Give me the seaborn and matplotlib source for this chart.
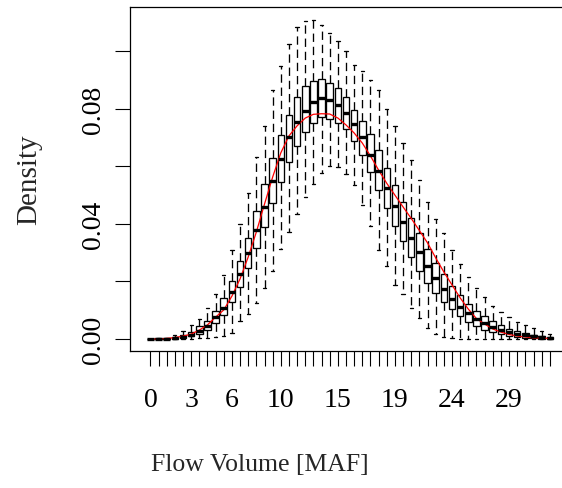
import numpy as np
import pandas as pd
import matplotlib
matplotlib.use("Agg")
import matplotlib.pyplot as plt
import seaborn as sns

# ---------------- data ----------------
positions = list(range(50))

whisker_low = [0.0000, 0.0000, 0.0000, 0.0000, 0.0000, 0.0000, 0.0002, 0.0002, 0.0006, 0.0011,
               0.0020, 0.0062, 0.0087, 0.0124, 0.0176, 0.0237, 0.0313, 0.0371, 0.0434, 0.0493,
               0.0539, 0.0577, 0.0600, 0.0597, 0.0574, 0.0536, 0.0467, 0.0394, 0.0309, 0.0255,
               0.0188, 0.0156, 0.0107, 0.0072, 0.0037, 0.0017, 0.0006, 0.0003, 0.0001, 0.0001,
               0.0000, 0.0000, 0.0000, 0.0000, 0.0000, 0.0000, 0.0000, 0.0000, 0.0000, 0.0000]

box_q1 = [0.0000, 0.0000, 0.0000, 0.0001, 0.0003, 0.0009, 0.0017, 0.0032, 0.0056, 0.0084,
          0.0128, 0.0180, 0.0246, 0.0315, 0.0388, 0.0472, 0.0545, 0.0614, 0.0672, 0.0718,
          0.0751, 0.0771, 0.0765, 0.0751, 0.0730, 0.0687, 0.0640, 0.0579, 0.0518, 0.0454,
          0.0394, 0.0340, 0.0286, 0.0236, 0.0195, 0.0159, 0.0128, 0.0104, 0.0080, 0.0058,
          0.0045, 0.0031, 0.0023, 0.0017, 0.0011, 0.0008, 0.0005, 0.0002, 0.0001, 0.0000]

box_median = [0.0000, 0.0000, 0.0001, 0.0003, 0.0008, 0.0014, 0.0027, 0.0046, 0.0075, 0.0107,
              0.0162, 0.0226, 0.0299, 0.0379, 0.0460, 0.0548, 0.0626, 0.0701, 0.0753, 0.0794,
              0.0823, 0.0837, 0.0831, 0.0812, 0.0786, 0.0746, 0.0701, 0.0641, 0.0585, 0.0524,
              0.0461, 0.0406, 0.0351, 0.0301, 0.0254, 0.0212, 0.0174, 0.0139, 0.0112, 0.0090,
              0.0071, 0.0056, 0.0043, 0.0031, 0.0023, 0.0017, 0.0013, 0.0009, 0.0006, 0.0003]

box_q3 = [0.0001, 0.0002, 0.0003, 0.0007, 0.0013, 0.0023, 0.0046, 0.0064, 0.0096, 0.0141,
          0.0201, 0.0270, 0.0352, 0.0444, 0.0539, 0.0628, 0.0709, 0.0780, 0.0840, 0.0878,
          0.0896, 0.0903, 0.0891, 0.0871, 0.0840, 0.0797, 0.0757, 0.0713, 0.0658, 0.0594,
          0.0535, 0.0475, 0.0421, 0.0367, 0.0312, 0.0265, 0.0225, 0.0185, 0.0152, 0.0123,
          0.0097, 0.0079, 0.0063, 0.0048, 0.0036, 0.0027, 0.0020, 0.0015, 0.0011, 0.0008]

whisker_high = [0.0001, 0.0002, 0.0005, 0.0014, 0.0028, 0.0049, 0.0070, 0.0107, 0.0156, 0.0222,
                0.0309, 0.0400, 0.0506, 0.0632, 0.0741, 0.0867, 0.0950, 0.1025, 0.1086, 0.1106,
                0.1109, 0.1090, 0.1063, 0.1035, 0.1000, 0.0953, 0.0933, 0.0901, 0.0867, 0.0800,
                0.0741, 0.0680, 0.0622, 0.0553, 0.0477, 0.0417, 0.0368, 0.0310, 0.0261, 0.0217,
                0.0178, 0.0145, 0.0116, 0.0095, 0.0078, 0.0059, 0.0049, 0.0037, 0.0029, 0.0018]

density_curve = [0.0000, 0.0000, 0.0002, 0.0005, 0.0010, 0.0017, 0.0031, 0.0049, 0.0076, 0.0101,
                 0.0149, 0.0209, 0.0285, 0.0372, 0.0469, 0.0563, 0.0647, 0.0706, 0.0741, 0.0768,
                 0.0781, 0.0783, 0.0782, 0.0768, 0.0744, 0.0716, 0.0681, 0.0636, 0.0587, 0.0541,
                 0.0500, 0.0459, 0.0419, 0.0377, 0.0334, 0.0282, 0.0233, 0.0188, 0.0143, 0.0104,
                 0.0071, 0.0052, 0.0035, 0.0024, 0.0016, 0.0010, 0.0007, 0.0004, 0.0003, 0.0002]

xtick_label_pos = [0, 5, 10, 16, 23, 30, 37, 44]
xtick_label_txt = ["0", "3", "6", "10", "15", "19", "24", "29"]
ytick_values = [0.00, 0.02, 0.04, 0.06, 0.08, 0.10]
ytick_txt = ["0.00", "", "0.04", "", "0.08", ""]
x_title = "Flow Volume [MAF]"
y_title = "Density"

# ---------------- style ----------------
sns.set_theme(style="white")
plt.rcParams["font.family"] = ["Liberation Serif", "DejaVu Serif"]
plt.rcParams["lines.scale_dashes"] = False
FS = 20

# five-number summaries -> long table (percentiles of 5 values reproduce them)
rows = []
for i in positions:
    for v in (whisker_low[i], box_q1[i], box_median[i], box_q3[i], whisker_high[i]):
        rows.append({"bin": i, "density": v})
df = pd.DataFrame(rows)

W, H = 562, 489
fig = plt.figure(figsize=(W / 100, H / 100), dpi=100)
left, right, top, bottom = 130, 570.2, 8, 352
ax = fig.add_axes([left / W, (H - bottom) / H, (right - left) / W, (bottom - top) / H])

sns.boxplot(data=df, x="bin", y="density", order=positions, whis=(0, 100),
            showfliers=False, width=0.8, color="white", linecolor="black",
            linewidth=0.95, ax=ax,
            whiskerprops=dict(linestyle=(0, (6, 3.5)), linewidth=0.95),
            capprops=dict(linewidth=0.95),
            medianprops=dict(linewidth=2.4, color="black", solid_capstyle="butt"))
sns.lineplot(x=positions, y=density_curve, color="red", linewidth=0.9, ax=ax)

ax.set_xlim(-2.5, 51.5)
ax.set_ylim(-0.00417, 0.1154)

for s in ax.spines.values():
    s.set_visible(True)
    s.set_color("black")
    s.set_linewidth(0.9)

ax.set_xticks(positions)
ax.set_xticklabels([xtick_label_txt[xtick_label_pos.index(i)] if i in xtick_label_pos else ""
                    for i in positions], fontsize=FS)
ax.set_yticks(ytick_values)
ax.set_yticklabels(ytick_txt, fontsize=FS, rotation=90, va="center")
ax.tick_params(axis="both", which="major", direction="out", length=11, width=0.8,
               color="black", labelcolor="black")
ax.tick_params(axis="x", pad=15, bottom=True)
ax.tick_params(axis="y", pad=6, left=True)

ax.set_xlabel(x_title, fontsize=18.5, va="center")
ax.xaxis.set_label_coords((260 - left) / (right - left), (bottom - 465) / (bottom - top))
ax.set_ylabel(y_title, fontsize=21, va="center")
ax.yaxis.set_label_coords((29 - left) / (right - left), 0.5)

fig.savefig("out.png", dpi=100, facecolor="white")
